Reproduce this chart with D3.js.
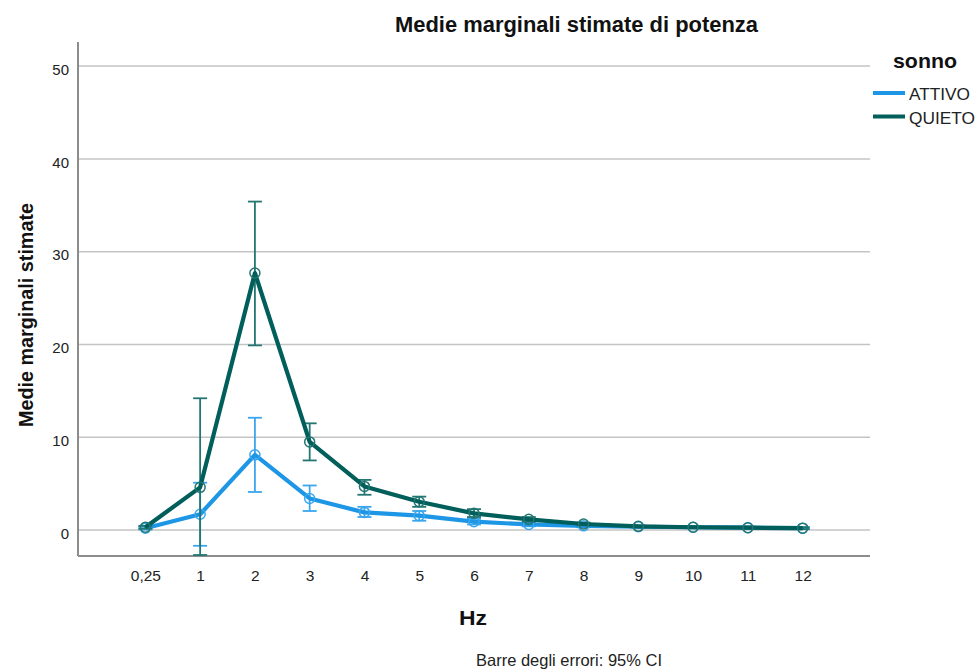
<!DOCTYPE html>
<html><head><meta charset="utf-8">
<script src="https://cdn.jsdelivr.net/npm/d3@7"></script>
<style>body{margin:0;background:#fff}text{font-family:"Liberation Sans",Arial,sans-serif}</style>
</head><body><svg id="c" width="979" height="670"></svg>
<script>
const categories = ["0,25","1","2","3","4","5","6","7","8","9","10","11","12"];
const attivo      = [0.2, 1.7, 8.1, 3.4, 1.9, 1.55, 0.9, 0.6, 0.45, 0.35, 0.3, 0.25, 0.2];
const attivoLow   = [0.05,-1.7, 4.1, 2.05,1.4, 1.0, 0.6, 0.4, 0.3, 0.25, 0.2, 0.15, 0.1];
const attivoHigh  = [0.35, 5.1,12.1, 4.8, 2.5, 2.05,1.2, 0.8, 0.6, 0.45, 0.4, 0.35, 0.3];
const quieto      = [0.3, 4.6, 27.7, 9.5, 4.7, 3.05, 1.8, 1.15, 0.65, 0.4, 0.3, 0.25, 0.2];
const quietoLow   = [0.15,-4.8, 19.9, 7.5, 3.8, 2.5, 1.4, 0.9, 0.5, 0.3, 0.2, 0.15, 0.1];
const quietoHigh  = [0.45,14.2, 35.4,11.5, 5.4, 3.6, 2.25,1.4, 0.8, 0.5, 0.4, 0.35, 0.3];
const yTicks = [0,10,20,30,40,50];
const seriesNames = ["ATTIVO","QUIETO"];
const colors = {"ATTIVO":"#1e96e6","QUIETO":"#005e5b"};
const errColors = {"ATTIVO":"#3aa6ee","QUIETO":"#237671"};

const svg = d3.select("#c");
const L=78, R=870, T=42, B=556;
const x = d3.scalePoint().domain(categories).range([L,R]).padding(1.23);
const y = d3.scaleLinear().domain([-2.8,52.6]).range([B,T]);

// grid
svg.append("g").selectAll("line").data(yTicks).join("line")
  .attr("x1",L).attr("x2",R).attr("y1",d=>y(d)).attr("y2",d=>y(d))
  .attr("stroke","#c4c4c4").attr("stroke-width",1.5);

// y axis
const ya = svg.append("g").attr("transform",`translate(${L},0)`)
  .call(d3.axisLeft(y).tickValues(yTicks).tickSize(0).tickPadding(9));
ya.select(".domain").attr("stroke","#8c8c8c").attr("stroke-width",2).attr("d",`M0,${T}V${B}`);
ya.selectAll("text").attr("font-size",15).attr("fill","#222").attr("dy","0.55em");

// x axis
const xa = svg.append("g").attr("transform",`translate(0,${B})`)
  .call(d3.axisBottom(x).tickSize(0).tickPadding(14));
xa.select(".domain").attr("stroke","#8c8c8c").attr("stroke-width",2).attr("d",`M${L},0H${R}`);
xa.selectAll("text").attr("font-size",15.5).attr("fill","#222");

svg.append("clipPath").attr("id","pa").append("rect")
  .attr("x",L-20).attr("y",T).attr("width",R-L+40).attr("height",B-T);

const series = [
  {name:"ATTIVO", v:attivo, lo:attivoLow, hi:attivoHigh},
  {name:"QUIETO", v:quieto, lo:quietoLow, hi:quietoHigh}
];
const plot = svg.append("g").attr("clip-path","url(#pa)");
const line = d3.line().x((d,i)=>x(categories[i])).y(d=>y(d));
series.forEach(s=>{
  const g = plot.append("g");
  const ec = errColors[s.name];
  categories.forEach((c,i)=>{
    const cx=x(c), y1=y(s.hi[i]), y2=y(s.lo[i]);
    g.append("line").attr("x1",cx).attr("x2",cx).attr("y1",y1).attr("y2",y2).attr("stroke",ec).attr("stroke-width",1.8);
    [y1, Math.min(y2,B-1)].forEach(yy=>g.append("line").attr("x1",cx-7).attr("x2",cx+7).attr("y1",yy).attr("y2",yy).attr("stroke",ec).attr("stroke-width",1.8));
  });
  g.append("path").attr("d",line(s.v)).attr("fill","none").attr("stroke",colors[s.name]).attr("stroke-width",4.2).attr("stroke-linejoin","round");
  g.selectAll("circle").data(s.v).join("circle")
    .attr("cx",(d,i)=>x(categories[i])).attr("cy",d=>y(d)).attr("r",5)
    .attr("fill","none").attr("stroke",ec).attr("stroke-width",1.5);
});

function txt(opts){
  const t = svg.append("text").attr("fill",opts.fill||"#111").attr("font-size",opts.fs)
    .attr("font-weight",opts.bold?"bold":"normal").text(opts.text);
  if(opts.transform) t.attr("transform",opts.transform);
  if(opts.x!==undefined) t.attr("x",opts.x).attr("y",opts.y);
  if(opts.anchor) t.attr("text-anchor",opts.anchor);
  if(opts.len) t.attr("textLength",opts.len).attr("lengthAdjust","spacingAndGlyphs");
  return t;
}
txt({x:395,y:32,fs:22,bold:true,len:363,text:"Medie marginali stimate di potenza"});
txt({transform:"translate(33,427) rotate(-90)",x:0,y:0,fs:21,bold:true,len:224,text:"Medie marginali stimate"});
txt({x:459,y:625,fs:21,bold:true,len:28,text:"Hz"});
txt({x:476,y:666,fs:16.5,len:186,fill:"#222",text:"Barre degli errori: 95% CI"});

// legend
txt({x:893,y:68,fs:21,bold:true,len:64,text:"sonno"});
seriesNames.forEach((n,i)=>{
  const yy = 93 + i*23.5;
  svg.append("line").attr("x1",873).attr("x2",905).attr("y1",yy).attr("y2",yy).attr("stroke",colors[n]).attr("stroke-width",4);
  txt({x:909,y:yy+7,fs:16,len:n==="ATTIVO"?61:66,fill:"#222",text:n});
});
</script></body></html>
